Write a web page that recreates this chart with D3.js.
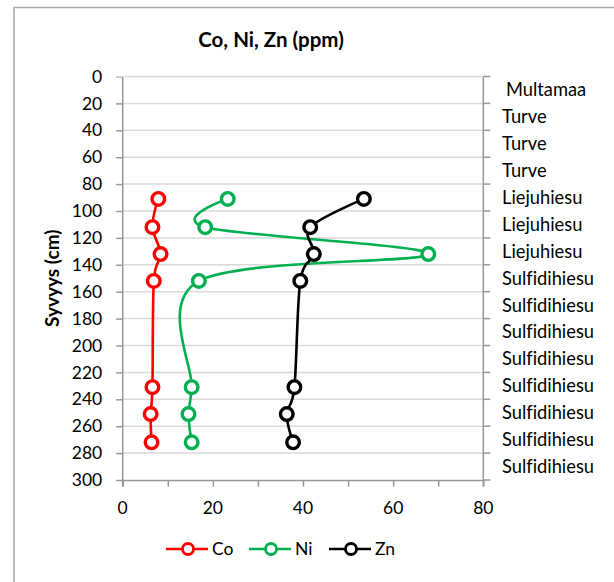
<!DOCTYPE html>
<html>
<head>
<meta charset="utf-8">
<script src="https://cdn.jsdelivr.net/npm/d3@7"></script>
<style>
  html, body { margin: 0; padding: 0; background: #fff; }
  svg { display: block; }
  text { font-family: Lato, "Open Sans", sans-serif; fill: #000; font-variant-ligatures: none; font-feature-settings: "liga" 0; }
</style>
</head>
<body>
<svg id="chart" width="614" height="582"></svg>
<script>
// ---- data ----
const depths = [91, 112, 132, 152, 231, 251, 272];
const coValues = [7.9, 6.6, 8.4, 6.9, 6.6, 6.2, 6.4];
const niValues = [23.3, 18.3, 67.8, 16.9, 15.3, 14.6, 15.3];
const znValues = [53.5, 41.6, 42.4, 39.4, 38.1, 36.4, 37.8];
const seriesNames = ["Co", "Ni", "Zn"];
const seriesColors = ["#ff0000", "#00b050", "#000000"];
const layerLabels = ["Multamaa", "Turve", "Turve", "Turve", "Liejuhiesu", "Liejuhiesu", "Liejuhiesu",
  "Sulfidihiesu", "Sulfidihiesu", "Sulfidihiesu", "Sulfidihiesu", "Sulfidihiesu", "Sulfidihiesu",
  "Sulfidihiesu", "Sulfidihiesu"];
const depthTicks = d3.range(0, 301, 20);
const xTickMarks = d3.range(0, 81, 10);
const xTickLabels = [0, 20, 40, 60, 80];

const svg = d3.select("#chart");

// chart border (left + top visible)
svg.append("path").attr("d", "M14,600 L14,7.5 L620,7.5")
  .attr("fill", "none").attr("stroke", "#a6a6a6").attr("stroke-width", 1.5);

const x = d3.scaleLinear().domain([0, 80]).range([122.7, 483.3]);
const y = d3.scaleLinear().domain([0, 300]).range([76.5, 480]);
const band = d3.scaleBand().domain(d3.range(layerLabels.length)).range([76.5, 480]);

const axisColor = "#969696";
const gridColor = "#d9d9d9";
const tickFont = 17.5;
const catFont = 18.3;

// gridlines
svg.append("g").selectAll("line").data(depthTicks.slice(1, -1)).join("line")
  .attr("x1", x(0)).attr("x2", x(80)).attr("y1", d => y(d)).attr("y2", d => y(d))
  .attr("stroke", gridColor).attr("stroke-width", 1.5);

// left axis
const leftAxis = d3.axisLeft(y).tickValues(depthTicks).tickSize(6.5).tickPadding(14).tickSizeOuter(0);
const gl = svg.append("g").attr("transform", `translate(${x(0)},0)`).call(leftAxis);
gl.select(".domain").remove();
gl.selectAll(".tick line").attr("stroke", axisColor).attr("stroke-width", 1.5);
gl.selectAll(".tick text").style("font-size", tickFont + "px").attr("fill", "#000");
svg.append("line").attr("x1", x(0)).attr("x2", x(0)).attr("y1", y(0)).attr("y2", y(300) + 6.5)
  .attr("stroke", axisColor).attr("stroke-width", 1.5);

// bottom axis
const bottomAxis = d3.axisBottom(x).tickValues(xTickMarks).tickSize(6.5).tickFormat("").tickSizeOuter(0);
const gb = svg.append("g").attr("transform", `translate(0,${y(300)})`).call(bottomAxis);
gb.select(".domain").attr("stroke", axisColor).attr("stroke-width", 1.5);
gb.selectAll(".tick line").attr("stroke", axisColor).attr("stroke-width", 1.5);
svg.append("g").selectAll("text").data(xTickLabels).join("text")
  .attr("x", d => x(d)).attr("y", y(300) + 34)
  .attr("text-anchor", "middle").style("font-size", tickFont + "px").text(d => d);

// right axis (layer categories)
svg.append("line").attr("x1", x(80)).attr("x2", x(80)).attr("y1", y(0)).attr("y2", y(300) + 6.5)
  .attr("stroke", axisColor).attr("stroke-width", 1.5);
svg.append("g").selectAll("line").data(depthTicks).join("line")
  .attr("x1", x(80)).attr("x2", x(80) + 7).attr("y1", d => y(d)).attr("y2", d => y(d))
  .attr("stroke", axisColor).attr("stroke-width", 1.5);
svg.append("line").attr("x1", x(0) - 6.5).attr("x2", x(80)).attr("y1", y(0)).attr("y2", y(0))
  .attr("stroke", gridColor).attr("stroke-width", 1.5);
svg.append("g").selectAll("text").data(layerLabels).join("text")
  .attr("x", (d, i) => i === 0 ? 506 : 502)
  .attr("y", (d, i) => band(i) + band.bandwidth() / 2)
  .attr("dy", "0.35em").style("font-size", catFont + "px").text(d => d);

// series
const series = [coValues, niValues, znValues].map((vals, k) => ({
  name: seriesNames[k], color: seriesColors[k],
  points: vals.map((v, i) => ({ v, d: depths[i] }))
}));
const line = d3.line().x(p => x(p.v)).y(p => y(p.d)).curve(d3.curveCatmullRom.alpha(0));

const gs = svg.append("g").selectAll("g").data(series).join("g");
gs.append("path").attr("d", s => line(s.points)).attr("fill", "none")
  .attr("stroke", s => s.color).attr("stroke-width", 2.6);
gs.each(function (s) {
  d3.select(this).selectAll("circle").data(s.points).join("circle")
    .attr("cx", p => x(p.v)).attr("cy", p => y(p.d)).attr("r", 6.3)
    .attr("fill", "#fff").attr("stroke", s.color).attr("stroke-width", 3.4);
});

// title
svg.append("text").attr("x", 271).attr("y", 47).attr("text-anchor", "middle")
  .style("font-size", "20.5px").style("font-weight", "bold").text("Co, Ni, Zn (ppm)");

// y axis title
svg.append("text").attr("transform", `translate(59,${(y(0) + y(300)) / 2}) rotate(-90)`)
  .attr("text-anchor", "middle").style("font-size", "19px").style("font-weight", "bold")
  .text("Syvyys (cm)");

// legend
const legendX = [166, 249, 329];
const lg = svg.append("g").selectAll("g").data(series).join("g")
  .attr("transform", (s, i) => `translate(${legendX[i]},549)`);
lg.append("line").attr("x1", 0).attr("x2", 42).attr("stroke", s => s.color).attr("stroke-width", 2.6);
lg.append("circle").attr("cx", 22).attr("r", 5.5).attr("fill", "#fff")
  .attr("stroke", s => s.color).attr("stroke-width", 2.8);
lg.append("text").attr("x", 46).attr("dy", "0.35em").style("font-size", tickFont + "px").text(s => s.name);
</script>
</body>
</html>
